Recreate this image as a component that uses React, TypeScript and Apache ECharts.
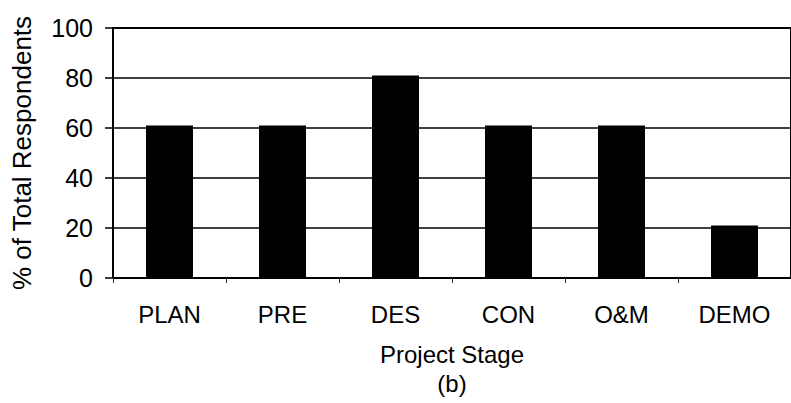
import React, { useEffect, useRef } from "react";
import * as echarts from "echarts";

const categories = ["PLAN", "PRE", "DES", "CON", "O&M", "DEMO"];
const values = [61, 61, 81, 61, 61, 21];
const yTicks = { min: 0, max: 100, interval: 20 };
const yTitle = "% of Total Respondents";
const xTitle = "Project Stage\n(b)";

const FONT = "'Liberation Sans', Arial, sans-serif";

export default function App() {
  const ref = useRef<HTMLDivElement>(null);
  useEffect(() => {
    if (!ref.current) return;
    const chart = echarts.init(ref.current, undefined, { renderer: "svg" });
    chart.setOption({
      animation: false,
      backgroundColor: "#fff",
      textStyle: { fontFamily: FONT, color: "#000" },
      grid: {
        left: 113,
        right: -12,
        top: 28,
        bottom: 125,
        show: true,
        borderColor: "#000",
        borderWidth: 2,
        backgroundColor: "transparent",
      },
      xAxis: {
        type: "category",
        data: categories,
        boundaryGap: true,
        axisLine: { show: true, lineStyle: { color: "#000", width: 2 } },
        axisTick: { show: true, length: 5, lineStyle: { color: "#333", width: 1 } },
        axisLabel: { fontSize: 24, color: "#000", margin: 24, fontFamily: FONT },
        name: xTitle,
        nameLocation: "middle",
        nameGap: 62,
        nameTextStyle: { fontSize: 24, color: "#000", lineHeight: 29, fontFamily: FONT },
      },
      yAxis: {
        type: "value",
        min: yTicks.min,
        max: yTicks.max,
        interval: yTicks.interval,
        axisLine: { show: true, lineStyle: { color: "#000", width: 2 } },
        axisTick: { show: true, length: 8, lineStyle: { color: "#000", width: 1.5 } },
        axisLabel: { fontSize: 25, color: "#000", margin: 20, fontFamily: FONT },
        splitLine: { show: true, lineStyle: { color: "#000", width: 1.5 } },
        name: yTitle,
        nameLocation: "middle",
        nameGap: 78,
        nameTextStyle: { fontSize: 26, color: "#000", fontFamily: FONT },
      },
      series: [
        {
          type: "bar",
          data: values,
          barWidth: 47,
          itemStyle: { color: "#000" },
        },
      ],
    });
    return () => chart.dispose();
  }, []);
  return (
    <div
      ref={ref}
      style={{ position: "fixed", left: 0, top: 0, width: 791, height: 403, background: "#fff" }}
    />
  );
}
